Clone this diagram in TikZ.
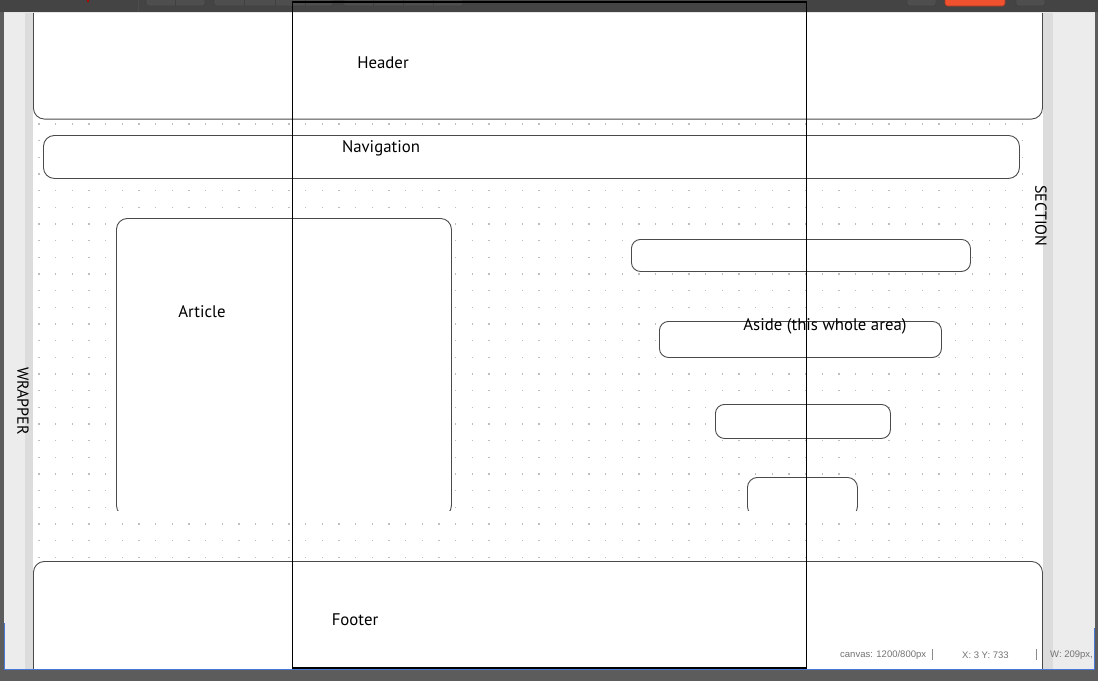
\documentclass[tikz,border=0pt]{standalone}
\usepackage{fontspec}
\setmainfont{PT Sans}
\newfontfamily\statusfont{Liberation Sans}
\definecolor{barDark}{HTML}{444444}
\definecolor{edgeDark}{HTML}{5C5C5C}
\definecolor{sideLight}{HTML}{ECECEC}
\definecolor{sideMid}{HTML}{DCDCDC}
\definecolor{boxLine}{HTML}{4A4A4A}
\definecolor{dotGray}{HTML}{BDBDBD}
\definecolor{btnFill}{HTML}{4E4E4E}
\definecolor{btnRed}{HTML}{F0512F}
\definecolor{selBlue}{HTML}{4A78D8}
\tikzset{
  wbox/.style={draw=boxLine, line width=0.9pt, fill=white, rounded corners=11pt},
  lbl/.style={font=\fontsize{16.8}{18}\selectfont, inner sep=0pt},
  side/.style={font=\fontsize{16}{18}\selectfont, inner sep=0pt, rotate=-90},
  status/.style={font=\statusfont\fontsize{9.5}{11}\selectfont, text=black!55, inner sep=0pt},
  btn/.style={draw=black!75, line width=0.6pt, fill=btnFill, rounded corners=2.5pt},
}
\begin{document}
\begin{tikzpicture}[x=1pt,y=-1pt]
\useasboundingbox (0,0) rectangle (1098,681);
% frame
\fill[edgeDark] (0,0) rectangle (1098,681);
\fill[sideLight] (4,12) rectangle (1095,670);
\fill[sideMid] (25,12) rectangle (33,670);
\fill[sideMid] (1043,12) rectangle (1053,670);
\fill[white] (33,12) rectangle (1043,670);
% dotted grid
\begin{scope}
\clip (33,12) rectangle (1043,670);
\foreach \j in {0,...,26} {
  \foreach \i in {0,...,59} {
    \fill[dotGray] ({38.3+16.67*\i},{123.3+16.67*\j}) rectangle ++(1.2,1.2);
  }
}
\end{scope}
% header
\node[wbox, minimum width=1009pt, minimum height=125pt, anchor=south west] (header) at (33,119.5) {};
\node[lbl] (headertxt) at (383,63) {Header};
% navigation
\node[wbox, minimum width=976pt, minimum height=43pt, anchor=north west] (nav) at (43,135) {};
\node[lbl] (navtxt) at (381,148) {Navigation};
% article and last aside box (bottom cut off)
\begin{scope}
\clip (0,0) rectangle (1098,510);
\node[wbox, minimum width=335pt, minimum height=298pt, anchor=north west] (article) at (116,218) {};
\node[wbox, rounded corners=10pt, minimum width=110pt, minimum height=39pt, anchor=north west] (aside4) at (747,477) {};
\end{scope}
\node[lbl] (articletxt) at (202,312) {Article};
% aside boxes
\node[wbox, rounded corners=9pt, minimum width=339pt, minimum height=32pt, anchor=north west] (aside1) at (631,239) {};
\node[wbox, rounded corners=9pt, minimum width=282pt, minimum height=36pt, anchor=north west] (aside2) at (659,321) {};
\node[wbox, rounded corners=9pt, minimum width=175pt, minimum height=34pt, anchor=north west] (aside3) at (715,404) {};
\node[lbl] (asidetxt) at (825,326) {Aside (this whole area)};
% footer
\begin{scope}
\clip (0,0) rectangle (1098,669);
\node[wbox, minimum width=1009pt, minimum height=130pt, anchor=north west] (footer) at (33,561) {};
\end{scope}
\node[lbl] (footertxt) at (355,620) {Footer};
% side labels
\node[side] (wrapper) at (23,401) {WRAPPER};
\node[side] (section) at (1041,216) {SECTION};
% status bar
\node[status, anchor=west] (st1) at (840,655) {canvas: 1200/800px};
\node[status, anchor=west] (st2) at (962,655) {X: 3 Y: 733};
\node[status, anchor=west] (st3) at (1050,655) {W: 209px,};
\draw[black!45, line width=0.6pt] (932,649) -- (932,660);
\draw[black!45, line width=0.6pt] (1036,649) -- (1036,660);
% selection lines
\draw[selBlue, line width=0.9pt] (4,669.5) -- (1095,669.5);
\draw[selBlue, line width=0.9pt] (4.5,623) -- (4.5,669.5);
\draw[selBlue, line width=0.9pt] (1094.5,628) -- (1094.5,669.5);
% top toolbar
\fill[barDark] (0,0) rectangle (1098,12);
\fill[black!10] (4,12) rectangle (1095,13.2);
\fill[red!70!black] (87,0) rectangle (89,2);
\draw[black!70, line width=0.6pt] (138,0) -- (138,12);
\draw[btn] (146,-4) rectangle (205,6);
\draw[black!75, line width=0.5pt] (175,0) -- (175,6);
\draw[btn] (214,-4) rectangle (333,6);
\foreach \xx in {244,275,305} \draw[black!75, line width=0.5pt] (\xx,0) -- (\xx,6);
\draw[btn] (343,-4) rectangle (463,6);
\foreach \xx in {373,403,433} \draw[black!75, line width=0.5pt] (\xx,0) -- (\xx,6);
\draw[btn] (907,-4) rectangle (936,6);
\draw[btn, fill=btnRed, draw=btnRed!70!black] (945,-4) rectangle (1005,6);
\draw[btn] (1016,-4) rectangle (1045,6);
% black overlay rectangle
\draw[black, line width=1.1pt] (292.5,2) rectangle (806.5,668);
\end{tikzpicture}
\end{document}
